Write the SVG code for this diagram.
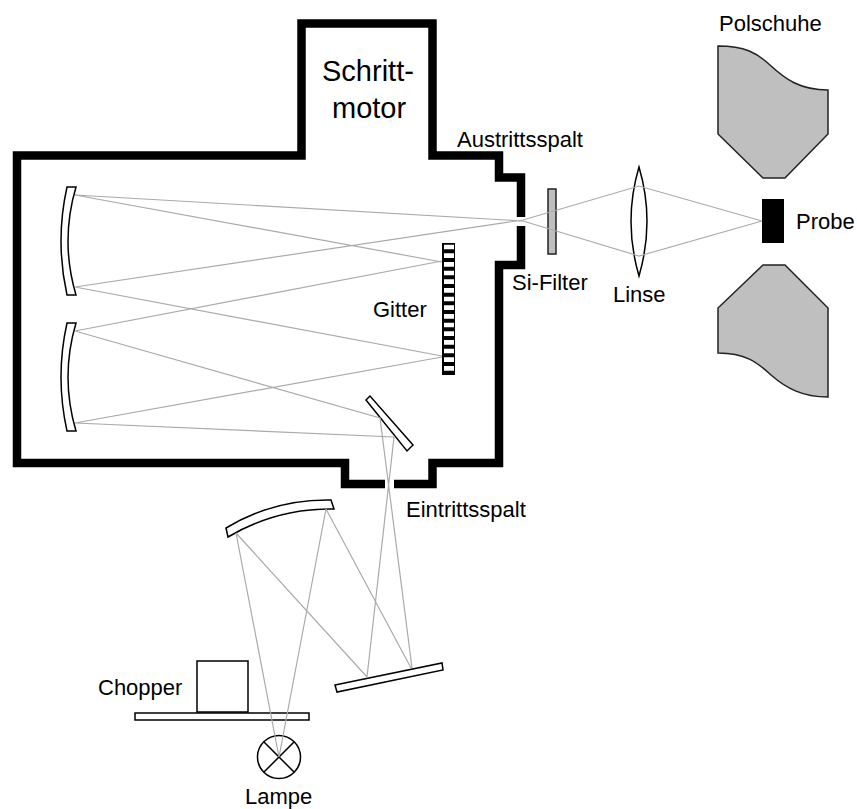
<svg xmlns="http://www.w3.org/2000/svg" width="857" height="809" viewBox="0 0 857 809">
<style>
.t{font-family:"Liberation Sans",Arial,sans-serif;font-size:22px;fill:#000}
.b{font-size:29px}
.o{fill:#fff;stroke:#000;stroke-width:1.5}
.g{fill:#bfbfbf;stroke:#222;stroke-width:1.5}
.r{fill:none;stroke:#aaa;stroke-width:1.2}
.h{fill:none;stroke:#000;stroke-width:8.500}
</style>
<rect width="857" height="809" fill="#fff"/>
<g id="housing">
<path class="h" d="M521,217V177.500H499V155.500H432.500V23.500H301.500V155.500H17V463H345V484H385M394,484H432.500V463H499V265H521V226"/>
</g>
<g id="mirror1"><path class="o" d="M67,187H76Q60,241 76,295H67Q55,241 67,187Z"/></g>
<g id="mirror2"><path class="o" d="M67,323H76Q60,377 76,431H67Q55,377 67,323Z"/></g>
<g id="grating"><rect x="442" y="243" width="13" height="132" fill="#000"/>
<path stroke="#fff" stroke-width="4.700" d="M444,247h10M444,255.700h10M444,264.400h10M444,273h10M444,281.700h10M444,290.400h10M444,299h10M444,307.700h10M444,316.400h10M444,325h10M444,333.700h10M444,342.400h10M444,351h10M444,359.700h10M444,368.400h10"/></g>
<g id="flat-mirror"><path class="o" d="M370,396L366,400L407,451L413,445Z"/></g>
<g id="upper-mirror"><path class="o" d="M226,528Q274,499 331,500L334,509Q277,508 228,537Z"/></g>
<g id="lower-mirror"><path class="o" d="M335,685L442,663L443,670L337,692Z"/></g>
<g id="chopper"><rect class="o" x="197" y="661" width="51" height="51"/><rect class="o" x="135" y="713" width="174" height="7"/></g>
<g id="lamp"><circle class="o" cx="279" cy="757" r="21.500"/><path fill="none" stroke="#000" stroke-width="1.500" d="M264,742L294,772M294,742L264,772"/></g>
<g id="si-filter"><rect class="g" x="548" y="189" width="8" height="65"/></g>
<g id="lens"><path class="o" d="M639,167Q623,221 639,276Q655,221 639,167Z"/></g>
<g id="probe"><rect x="762" y="199" width="22" height="44" fill="#000"/></g>
<g id="pole-top"><path class="g" d="M718,46C745,46 757,53 770,65C785,79 800,90 828,90V134L785,178H763L718,134Z"/></g>
<g id="pole-bottom"><path class="g" d="M763,265H785L828,308V397C802,397 786,388 771,375C757,362 745,353 718,353V308Z"/></g>
<g id="connectors">
<path class="r" d="M75,195L523,221L639,256L762,221M75,195L442,262M75,287L523,220L639,186L762,221M75,287L442,356M75,331L442,261M75,331L380,418L412,668M75,423L442,357M75,423L394,437L367,677M236,533L367,677M326,509L411,668M236,533L279,757M326,509L279,757"/>
</g>
<g id="labels">
<text class="t b" x="322" y="81">Schritt-</text>
<text class="t b" x="332" y="118">motor</text>
<text class="t" x="457" y="147">Austrittsspalt</text>
<text class="t" x="719" y="31">Polschuhe</text>
<text class="t" x="796" y="229">Probe</text>
<text class="t" x="512" y="290">Si-Filter</text>
<text class="t" x="613" y="302">Linse</text>
<text class="t" x="373" y="317">Gitter</text>
<text class="t" x="406" y="517">Eintrittsspalt</text>
<text class="t" x="98" y="695">Chopper</text>
<text class="t" x="245" y="804">Lampe</text>
</g>
</svg>
